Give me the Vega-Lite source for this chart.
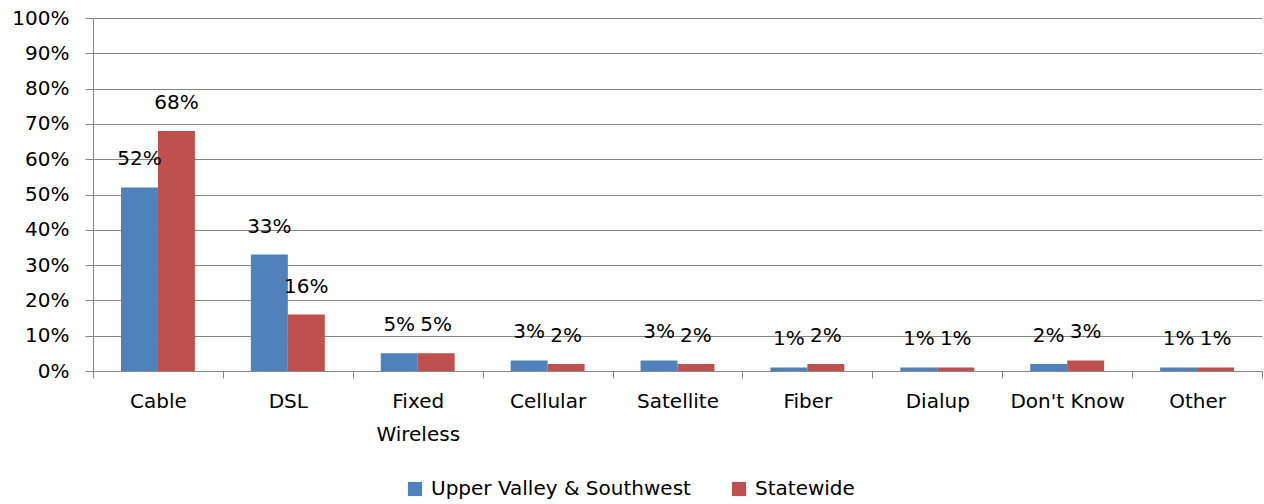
{
  "$schema": "https://vega.github.io/schema/vega-lite/v6.json",
  "width": 1169,
  "height": 353,
  "autosize": {"type": "none"},
  "padding": {"left": 93, "top": 18, "right": 2, "bottom": 133},
  "background": "white",
  "config": {
    "view": {"stroke": null},
    "font": "DejaVu Sans",
    "text": {"font": "DejaVu Sans"}
  },
  "data": {
    "values": [
      {"type": "Cable", "series": "Upper Valley & Southwest", "value": 0.52, "label": "52%"},
      {"type": "Cable", "series": "Statewide", "value": 0.68, "label": "68%"},
      {"type": "DSL", "series": "Upper Valley & Southwest", "value": 0.33, "label": "33%"},
      {"type": "DSL", "series": "Statewide", "value": 0.16, "label": "16%"},
      {"type": "Fixed Wireless", "series": "Upper Valley & Southwest", "value": 0.05, "label": "5%"},
      {"type": "Fixed Wireless", "series": "Statewide", "value": 0.05, "label": "5%"},
      {"type": "Cellular", "series": "Upper Valley & Southwest", "value": 0.03, "label": "3%"},
      {"type": "Cellular", "series": "Statewide", "value": 0.02, "label": "2%"},
      {"type": "Satellite", "series": "Upper Valley & Southwest", "value": 0.03, "label": "3%"},
      {"type": "Satellite", "series": "Statewide", "value": 0.02, "label": "2%"},
      {"type": "Fiber", "series": "Upper Valley & Southwest", "value": 0.01, "label": "1%"},
      {"type": "Fiber", "series": "Statewide", "value": 0.02, "label": "2%"},
      {"type": "Dialup", "series": "Upper Valley & Southwest", "value": 0.01, "label": "1%"},
      {"type": "Dialup", "series": "Statewide", "value": 0.01, "label": "1%"},
      {"type": "Don't Know", "series": "Upper Valley & Southwest", "value": 0.02, "label": "2%"},
      {"type": "Don't Know", "series": "Statewide", "value": 0.03, "label": "3%"},
      {"type": "Other", "series": "Upper Valley & Southwest", "value": 0.01, "label": "1%"},
      {"type": "Other", "series": "Statewide", "value": 0.01, "label": "1%"}
    ]
  },
  "encoding": {
    "x": {
      "field": "type",
      "type": "nominal",
      "sort": null,
      "scale": {"paddingInner": 0, "paddingOuter": 0},
      "axis": {
        "title": null,
        "labelAngle": 0,
        "labelFontSize": 20,
        "labelColor": "#000000",
        "labelPadding": 13,
        "labelLineHeight": 33,
        "labelBaseline": "top",
        "labelLimit": 0,
        "labelExpr": "datum.label == 'Fixed Wireless' ? ['Fixed', 'Wireless'] : datum.label",
        "domainColor": "#868686",
        "tickColor": "#868686",
        "tickSize": 7,
        "tickBand": "extent",
        "grid": false
      }
    },
    "xOffset": {
      "field": "series",
      "type": "nominal",
      "sort": ["Upper Valley & Southwest", "Statewide"],
      "scale": {"paddingInner": 0, "paddingOuter": 0.757}
    },
    "y": {
      "field": "value",
      "type": "quantitative",
      "scale": {"domain": [0, 1], "nice": false},
      "axis": {
        "title": null,
        "format": ".0%",
        "values": [0, 0.1, 0.2, 0.3, 0.4, 0.5, 0.6, 0.7, 0.8, 0.9, 1],
        "labelFontSize": 20,
        "labelColor": "#000000",
        "labelPadding": 16,
        "domainColor": "#868686",
        "tickColor": "#868686",
        "tickSize": 8,
        "gridColor": "#868686",
        "gridWidth": 1.2
      }
    }
  },
  "layer": [
    {
      "mark": {"type": "bar"},
      "encoding": {
        "color": {
          "field": "series",
          "type": "nominal",
          "sort": ["Upper Valley & Southwest", "Statewide"],
          "scale": {"domain": ["Upper Valley & Southwest", "Statewide"], "range": ["#4F81BD", "#C0504D"]},
          "legend": {
            "title": null,
            "orient": "none",
            "legendX": 312,
            "legendY": 461,
            "direction": "horizontal",
            "symbolType": "square",
            "symbolSize": 200,
            "symbolStrokeWidth": 0,
            "labelFontSize": 20,
            "labelLimit": 0,
            "labelColor": "#000000",
            "labelOffset": 6,
            "columnPadding": 38
          }
        }
      }
    },
    {
      "mark": {"type": "text", "baseline": "middle", "dy": -28, "fontSize": 20, "color": "#000000"},
      "encoding": {
        "text": {"field": "label"}
      }
    }
  ]
}
